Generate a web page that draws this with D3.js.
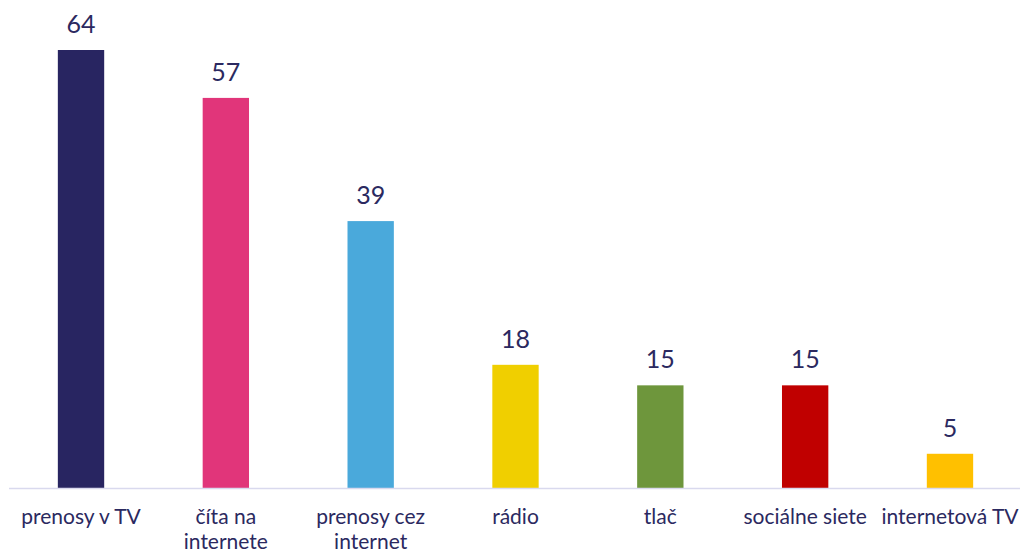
<!DOCTYPE html>
<html>
<head>
<meta charset="utf-8">
<script src="https://cdn.jsdelivr.net/npm/d3@7"></script>
<style>
  html, body { margin: 0; padding: 0; background: #fff; }
  svg { display: block; font-family: Lato, "Noto Sans", sans-serif; }
</style>
</head>
<body>
<svg id="chart" width="1020" height="552"></svg>
<script>
const categories = ["prenosy v TV", "číta na\ninternete", "prenosy cez\ninternet", "rádio", "tlač", "sociálne siete", "internetová TV"];
const values = [64, 57, 39, 18, 15, 15, 5];
const colors = ["#282561", "#e1357a", "#4aa9db", "#f0cf00", "#6e963c", "#c00000", "#ffc000"];

const svg = d3.select("#chart");
const W = 1020, H = 552;
const baseY = 488;

const x = d3.scaleBand().domain(d3.range(categories.length)).range([8.6, 1022.4]).paddingInner(0.68).paddingOuter(0.34);
const y = d3.scaleLinear().domain([0, 64]).range([baseY, 50]);

svg.selectAll("rect.bar").data(values).join("rect")
  .attr("class", "bar")
  .attr("x", (d, i) => x(i))
  .attr("width", x.bandwidth())
  .attr("y", d => y(d))
  .attr("height", d => y(0) - y(d))
  .attr("fill", (d, i) => colors[i]);

svg.append("line")
  .attr("x1", 9).attr("x2", W)
  .attr("y1", baseY + 0.5).attr("y2", baseY + 0.5)
  .attr("stroke", "#d9d9ee").attr("stroke-width", 1.5);

svg.selectAll("text.val").data(values).join("text")
  .attr("class", "val")
  .attr("x", (d, i) => x(i) + x.bandwidth() / 2)
  .attr("y", d => y(d) - 17)
  .attr("text-anchor", "middle")
  .attr("font-size", 25)
  .attr("fill", "#2b2960")
  .text(d => d);

const labels = svg.selectAll("text.cat").data(categories).join("text")
  .attr("class", "cat")
  .attr("x", (d, i) => x(i) + x.bandwidth() / 2)
  .attr("y", 524)
  .attr("text-anchor", "middle")
  .attr("font-size", 21)
  .attr("fill", "#2b2960");
labels.each(function(d) {
  const t = d3.select(this);
  const cx = t.attr("x");
  d.split("\n").forEach((line, k) => {
    t.append("tspan").attr("x", cx).attr("dy", k === 0 ? 0 : 25).text(line);
  });
});
</script>
</body>
</html>
